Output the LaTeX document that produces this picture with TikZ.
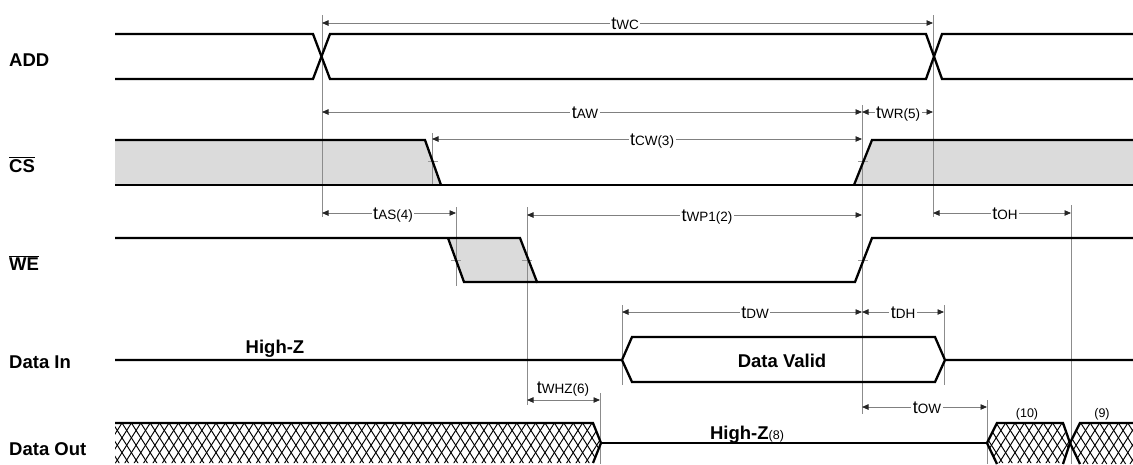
\documentclass[tikz,border=0pt]{standalone}
\usepackage{fontspec}
\setmainfont{Liberation Sans}
\usetikzlibrary{arrows.meta}
\newcommand{\tl}[1]{{\fontsize{18}{18}\selectfont t}{\fontsize{13.5}{14}\selectfont #1}}
\begin{document}
\begin{tikzpicture}[x=1pt,y=-1pt,
  sig/.style={line width=2.3pt, line join=miter, line cap=butt},
  dim/.style={draw=black!50, line width=0.8pt,
     {Triangle[length=6.5pt,width=5.5pt,color=black!85]}-{Triangle[length=6.5pt,width=5.5pt,color=black!85]}},
  ext/.style={draw=black!45, line width=0.8pt},
  tick/.style={draw=black!40, line width=0.7pt},
  lab/.style={fill=white, inner sep=1.5pt, anchor=base},
  signame/.style={anchor=base west, inner sep=0pt, font=\fontsize{18.5}{19}\selectfont\bfseries},
  bold/.style={inner sep=0pt, anchor=base, font=\fontsize{18.5}{19}\selectfont\bfseries},
  hatch/.style={line width=0.95pt, black},
  shade/.style={fill=black!14}]
\useasboundingbox (0,0) rectangle (1133,464);

% ---------------- signal names
\node[signame] (nADD) at (9,66) {ADD};
\node[signame] (nCS) at (9,172) {$\overline{\mbox{\bfseries CS}}$};
\node[signame] (nWE) at (9,270) {$\overline{\mbox{\bfseries WE}}$};
\node[signame] (nDI) at (9,368) {Data In};
\node[signame] (nDO) at (9,455) {Data Out};

% ---------------- shaded regions
\fill[shade] (115,140) -- (425,140) -- (441,185) -- (115,185) -- cycle;
\fill[shade] (854,185) -- (872,140) -- (1133,140) -- (1133,185) -- cycle;
\fill[shade] (448,238) -- (520,238) -- (537,282) -- (464,282) -- cycle;

% ---------------- extension lines
\draw[ext] (322,15) -- (322,217);
\draw[ext] (933,15) -- (933,217);
\draw[ext] (862,105) -- (862,414);
\draw[ext] (432,133) -- (432,185);
\draw[ext] (456,207) -- (456,286);
\draw[ext] (527,207) -- (527,405);
\draw[ext] (622,305) -- (622,385);
\draw[ext] (944,305) -- (944,385);
\draw[ext] (1071,205) -- (1071,464);
\draw[ext] (600,393) -- (600,464);
\draw[ext] (987,400) -- (987,464);
% ticks at edge midpoints
\draw[tick] (428,161) -- (438,161);
\draw[tick] (858,161) -- (868,161);
\draw[tick] (451,260) -- (461,260);
\draw[tick] (522,260) -- (532,260);
\draw[tick] (858,260) -- (868,260);

% ---------------- ADD
\draw[sig] (115,34) -- (313,34) -- (330,79) -- (926,79) -- (942,34) -- (1133,34);
\draw[sig] (115,79) -- (313,79) -- (330,34) -- (926,34) -- (942,79) -- (1133,79);

% ---------------- CS
\draw[sig] (115,140) -- (425,140) -- (441,185);
\draw[sig] (115,185) -- (1133,185);
\draw[sig] (854,185) -- (872,140) -- (1133,140);

% ---------------- WE
\draw[sig] (115,238) -- (520,238) -- (537,282) -- (855,282) -- (872,238) -- (1133,238);
\draw[sig] (448,238) -- (464,282) -- (537,282);

% ---------------- Data In
\draw[sig] (115,360) -- (622,360) -- (632,337) -- (935,337) -- (945,360) -- (1133,360);
\draw[sig] (622,360) -- (632,382) -- (935,382) -- (945,360);
\node[bold] (hz1) at (275,353) {High-Z};
\node[bold] (dv) at (782,367) {Data Valid};

% ---------------- Data Out
\begin{scope}
\clip (115,423) -- (593,423) -- (601,443) -- (593,463) -- (115,463) -- (115,464) -- cycle
      (987,443) -- (997,423) -- (1063,423) -- (1070,443) -- (1063,463) -- (997,463) -- cycle
      (1070,443) -- (1080,423) -- (1133,423) -- (1133,464) -- (1080,464) -- cycle;
\foreach \i in {0,...,122} {
  \draw[hatch] ({75+\i*9.4},423) -- ++(26,41);
  \draw[hatch] ({75+\i*9.4},423) -- ++(-26,41);
}
\end{scope}
\draw[sig] (115,423) -- (593,423) -- (601,443) -- (593,463);
\draw[sig] (601,443) -- (987,443);
\draw[sig] (997,464) -- (987,443) -- (997,423) -- (1063,423) -- (1070,443) -- (1063,464);
\draw[sig] (1080,464) -- (1070,443) -- (1080,423) -- (1133,423);
\node[anchor=base, inner sep=0pt] (hz8) at (747,439) {\fontsize{18.5}{19}\selectfont\bfseries High-Z\mdseries\fontsize{12.5}{13}\selectfont(8)};
\node[anchor=base, inner sep=0pt, font=\fontsize{12.5}{13}\selectfont] (p10) at (1027,417) {(10)};
\node[anchor=base, inner sep=0pt, font=\fontsize{12.5}{13}\selectfont] (p9) at (1102,417) {(9)};

% ---------------- dimension arrows
\draw[dim] (322,23) -- (933,23);   \node[lab] (lWC) at (625,29) {\tl{WC}};
\draw[dim] (322,112) -- (862,112); \node[lab] (lAW) at (585,118) {\tl{AW}};
\draw[dim] (862,112) -- (933,112); \node[lab] (lWR) at (898,118) {\tl{WR(5)}};
\draw[dim] (432,139) -- (862,139); \node[lab] (lCW) at (652,145) {\tl{CW(3)}};
\draw[dim] (322,213) -- (456,213); \node[lab] (lAS) at (393,219) {\tl{AS(4)}};
\draw[dim] (527,215) -- (862,215); \node[lab] (lWP) at (707,221) {\tl{WP1(2)}};
\draw[dim] (933,213) -- (1071,213); \node[lab] (lOH) at (1005,219) {\tl{OH}};
\draw[dim] (622,312) -- (862,312); \node[lab] (lDW) at (755,318) {\tl{DW}};
\draw[dim] (862,312) -- (944,312); \node[lab] (lDH) at (903,318) {\tl{DH}};
\draw[dim] (527,400) -- (600,400); \node[anchor=base, inner sep=0pt] (lWHZ) at (563,393) {\tl{WHZ(6)}};
\draw[dim] (862,407) -- (987,407); \node[lab] (lOW) at (927,413) {\tl{OW}};
\end{tikzpicture}
\end{document}
